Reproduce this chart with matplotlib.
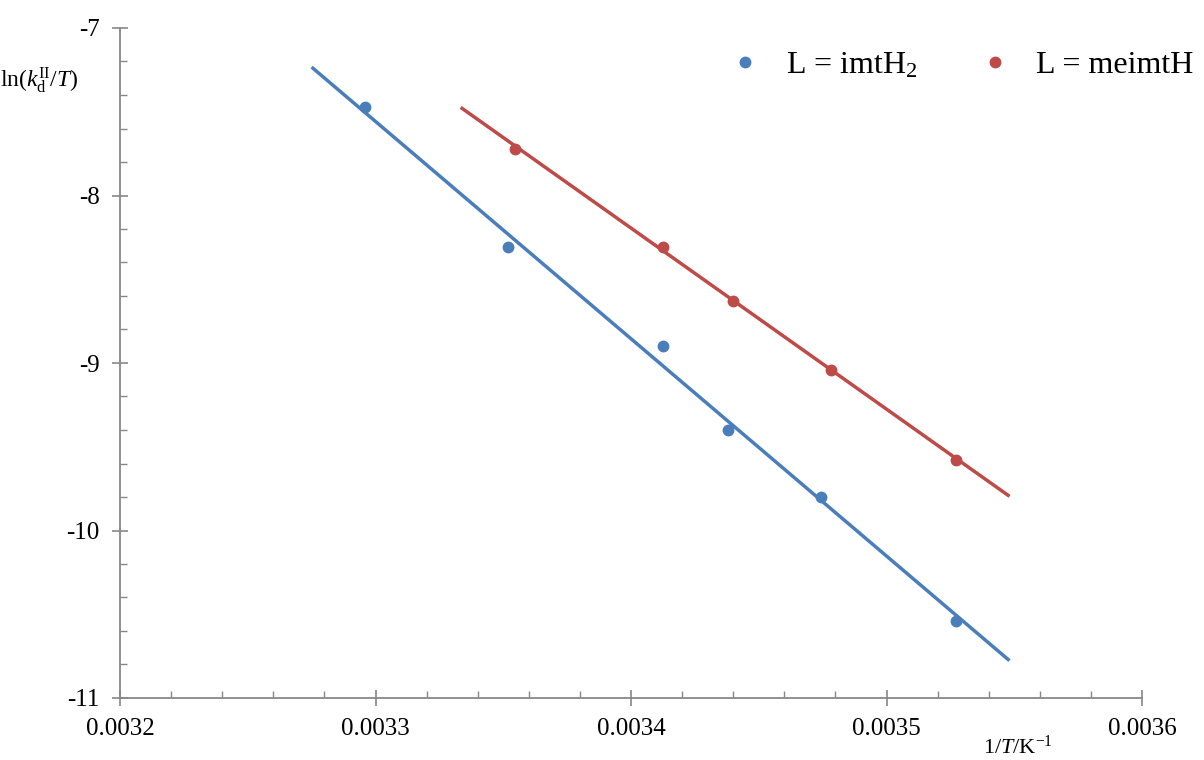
import matplotlib.pyplot as plt
from matplotlib.ticker import MultipleLocator

plt.rcParams['font.family'] = ['Liberation Serif', 'DejaVu Serif']
plt.rcParams['mathtext.fontset'] = 'custom'
plt.rcParams['mathtext.rm'] = 'Liberation Serif'
plt.rcParams['mathtext.it'] = 'Liberation Serif:italic'

# data
inv_T_imt = [0.003296, 0.003352, 0.0034125, 0.003438, 0.0034744, 0.0035272]
ln_k_imt = [-7.47, -8.31, -8.90, -9.40, -9.80, -10.54]
fit_x_imt = [0.0032755, 0.0035476]
fit_y_imt = [-7.24, -10.77]

inv_T_meimt = [0.0033546, 0.0034125, 0.00344, 0.0034783, 0.0035272]
ln_k_meimt = [-7.72, -8.31, -8.63, -9.04, -9.58]
fit_x_meimt = [0.0033339, 0.0035476]
fit_y_meimt = [-7.48, -9.79]

blue = '#4a7ebb'
red = '#be4b48'
grey = '#888888'

fig = plt.figure(figsize=(12.04, 7.6), dpi=100)
ax = fig.add_axes([120/1204, 1-698/760, (1142-120)/1204, (698-28)/760])

ax.plot(fit_x_imt, fit_y_imt, '-', color=blue, lw=2.5)
ax.plot(fit_x_meimt, fit_y_meimt, '-', color=red, lw=2.5)
ax.plot(inv_T_imt, ln_k_imt, 'o', color=blue, ms=7.5, label=r'L = imtH$_2$')
ax.plot(inv_T_meimt, ln_k_meimt, 'o', color=red, ms=7.5, label='L = meimtH')

ax.set_xlim(0.0032, 0.0036)
ax.set_ylim(-11, -7)
ax.xaxis.set_minor_locator(MultipleLocator(0.00002))
ax.yaxis.set_minor_locator(MultipleLocator(0.2))
ax.set_xticks([0.0032, 0.0033, 0.0034, 0.0035, 0.0036])
ax.set_xticklabels(['0.0032', '0.0033', '0.0034', '0.0035', '0.0036'])
ax.set_yticks([-11, -10, -9, -8, -7])
ax.set_yticklabels(['-11', '-10', '-9', '-8', '-7'])

for s in ['top', 'right']:
    ax.spines[s].set_visible(False)
for s in ['left', 'bottom']:
    ax.spines[s].set_color(grey)
    ax.spines[s].set_linewidth(1.3)
ax.tick_params(which='major', direction='inout', length=11, width=1.2, color=grey,
               labelsize=18, pad=9)
ax.tick_params(which='minor', direction='in', length=5, width=1.0, color=grey)

fig.text(0.0, 1-80/760, r'ln($k_\mathrm{d}^\mathrm{II}$/$T$)', fontsize=17, va='center', ha='left')
fig.text(1018/1204, 1-747/760, r'1/$T$/K$^{-1}$', fontsize=16, va='center', ha='center')

ax.legend(loc='upper left', bbox_to_anchor=(716/1204, 1-38/760), bbox_transform=fig.transFigure,
          ncol=2, frameon=False, fontsize=23, handletextpad=0.8, columnspacing=1.9,
          handlelength=1.0, borderaxespad=0)

fig.savefig('out.png', dpi=100)
